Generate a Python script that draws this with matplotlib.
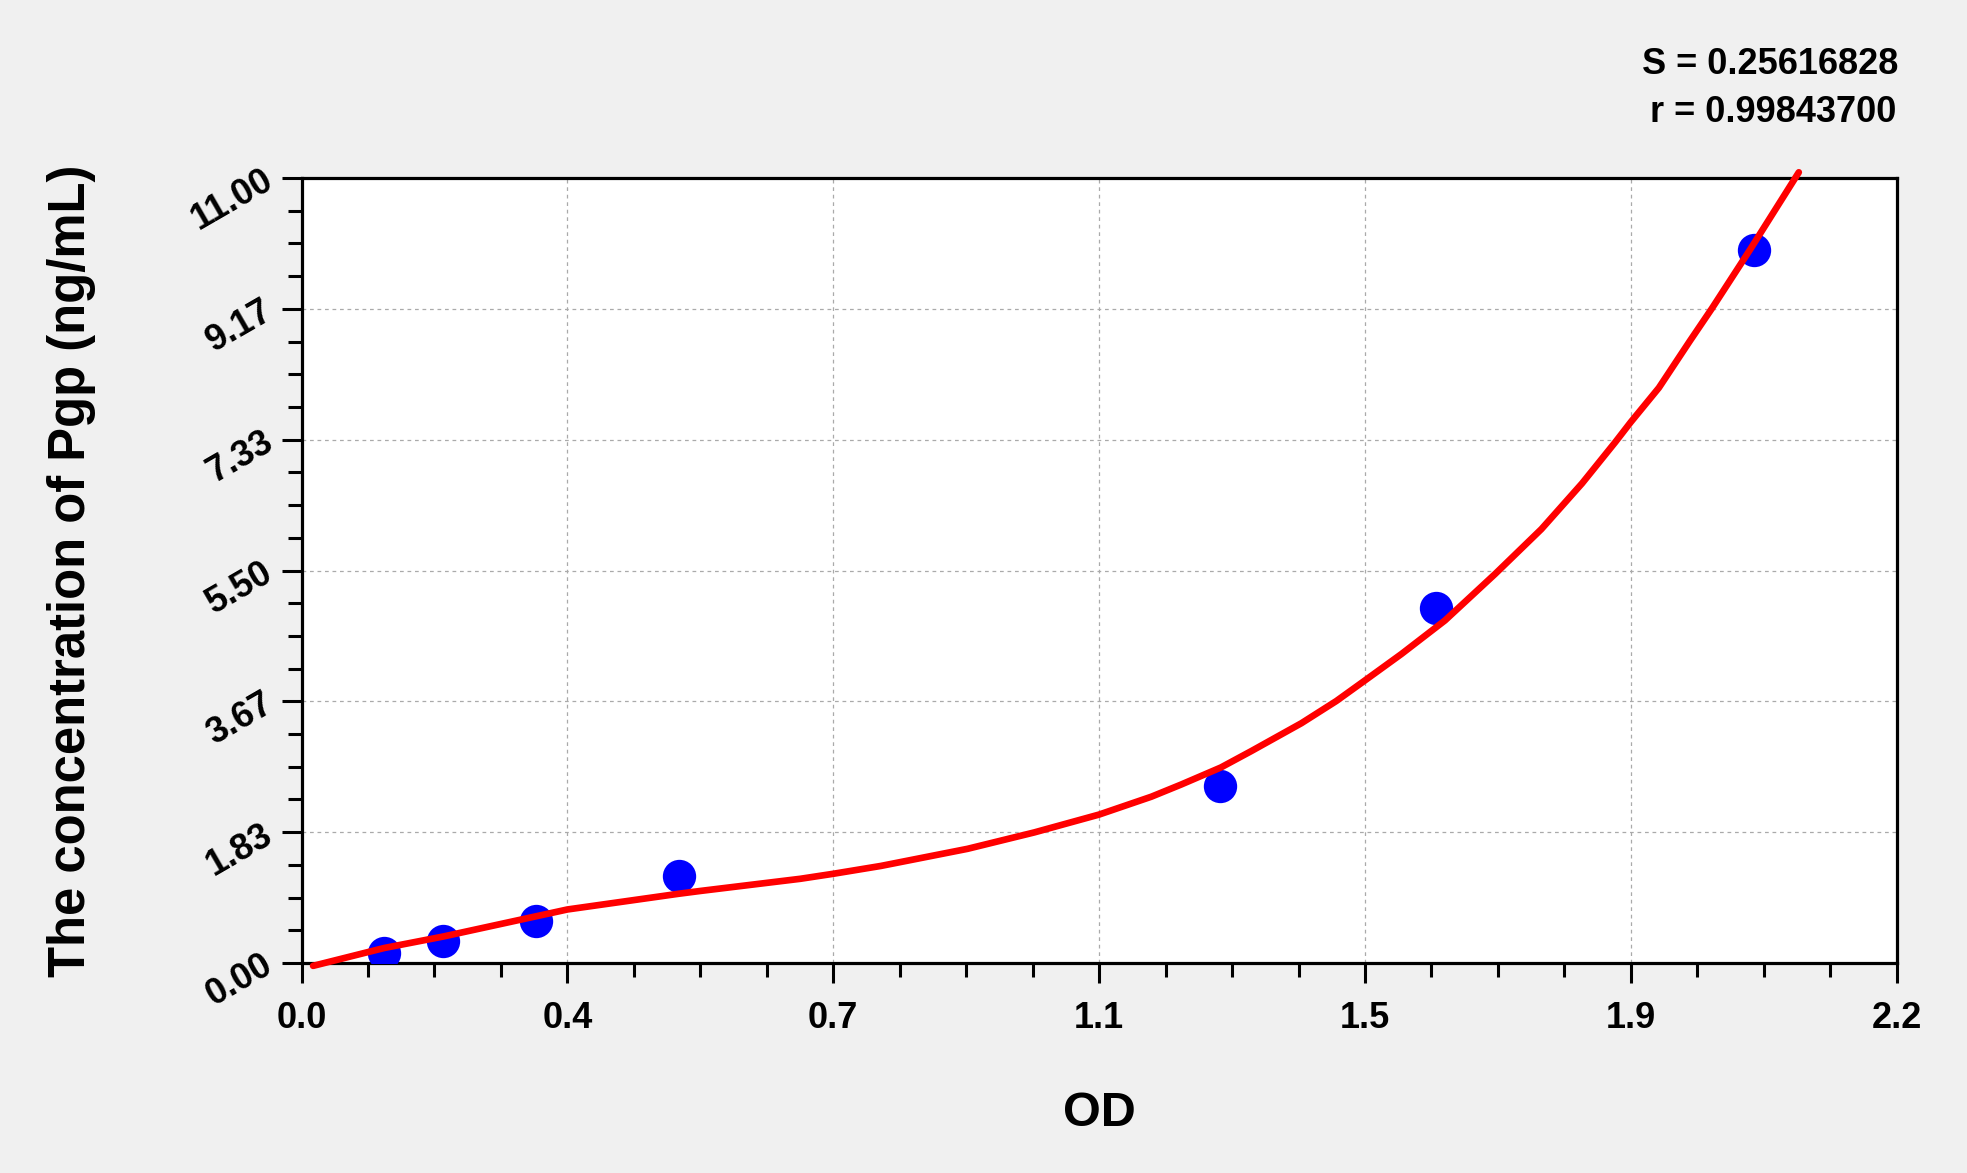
import matplotlib
matplotlib.use("Agg")
import matplotlib.pyplot as plt
from matplotlib.ticker import FixedLocator, MultipleLocator

plt.rcParams['font.family'] = ['Liberation Sans', 'DejaVu Sans']
plt.rcParams['font.weight'] = 'bold'

# ---- data ----
od = [0.114, 0.195, 0.324, 0.520, 1.267, 1.564, 2.003]
conc = [0.14, 0.31, 0.59, 1.22, 2.48, 4.97, 9.99]

# fitted standard curve
curve_x = [0.016, 0.114, 0.195, 0.3667, 0.520, 0.5504, 0.688, 0.7333, 0.799,
           0.9186, 1.0107, 1.1, 1.172, 1.213, 1.268, 1.310, 1.379, 1.427,
           1.4667, 1.517, 1.577, 1.646, 1.710, 1.766, 1.812, 1.8333, 1.872,
           1.915, 1.945, 1.998, 2.065]
curve_y = [-0.04, 0.21, 0.37, 0.75, 0.97, 1.01, 1.18, 1.25, 1.36,
           1.60, 1.83, 2.08, 2.33, 2.50, 2.74, 2.97, 3.36, 3.67,
           3.96, 4.33, 4.80, 5.45, 6.08, 6.72, 7.30, 7.58, 8.06,
           8.72, 9.17, 10.0, 11.08]

x_ticks = [0.0, 2.2 / 6, 2 * 2.2 / 6, 3 * 2.2 / 6, 4 * 2.2 / 6, 5 * 2.2 / 6, 2.2]
x_labels = ['0.0', '0.4', '0.7', '1.1', '1.5', '1.9', '2.2']
y_ticks = [0.0, 11 / 6, 2 * 11 / 6, 3 * 11 / 6, 4 * 11 / 6, 5 * 11 / 6, 11.0]
y_labels = ['0.00', '1.83', '3.67', '5.50', '7.33', '9.17', '11.00']

stats = ['S = 0.25616828', 'r = 0.99843700']

W, H = 1967, 1173
fig = plt.figure(figsize=(W / 100, H / 100), dpi=100, facecolor='#F0F0F0')
ax = fig.add_axes([301.5 / W, (H - 963) / H, (1896.7 - 301.5) / W, (963 - 178) / H])
ax.set_facecolor('white')

ax.set_xlim(0, 2.2)
ax.set_ylim(0, 11)

ax.xaxis.set_major_locator(FixedLocator(x_ticks))
ax.yaxis.set_major_locator(FixedLocator(y_ticks))
ax.set_xticklabels(x_labels)
ax.set_yticklabels(y_labels)
ax.xaxis.set_minor_locator(MultipleLocator(2.2 / 24))
ax.yaxis.set_minor_locator(MultipleLocator(11 / 24))

ax.grid(True, which='major', color='#AAAAAA', linestyle=(0, (3, 3)), linewidth=0.9)
ax.set_axisbelow(True)

for s in ax.spines.values():
    s.set_linewidth(2.3)
    s.set_color('black')

ax.tick_params(which='major', direction='out', length=14.5, width=2.2, labelsize=26,
               colors='black')
ax.tick_params(which='minor', direction='out', length=10, width=2.2)
ax.tick_params(axis='x', which='major', pad=13)
ax.tick_params(axis='y', which='major', pad=8)

for lab in ax.get_xticklabels():
    lab.set_fontweight('bold')
for lab in ax.get_yticklabels():
    lab.set_fontweight('bold')
    lab.set_rotation(30)
    lab.set_rotation_mode('anchor')
    lab.set_ha('right')
    lab.set_va('center')

ax.plot(od, conc, linestyle='none', marker='o', markersize=24, color='#0000FF',
        markeredgewidth=0, zorder=3)
ax.plot(curve_x, curve_y, color='#FF0000', linewidth=4.8, zorder=4, clip_on=False,
        solid_joinstyle='round', solid_capstyle='round')

ax.set_xlabel('OD', fontsize=35, fontweight='bold')
ax.xaxis.label.set_va('center')
ax.xaxis.set_label_coords(0.5, (963 - 1113) / 785)
ax.set_ylabel('The concentration of Pgp (ng/mL)', fontsize=36.5, fontweight='bold')
ax.yaxis.label.set_va('center')
ax.yaxis.set_label_coords((71.5 - 301.5) / 1595.2, 0.5)

fig.text(1898 / W, 1 - 64 / H, stats[0], ha='right', va='center', fontsize=26,
         fontweight='bold')
fig.text(1896 / W, 1 - 113 / H, stats[1], ha='right', va='center', fontsize=26,
         fontweight='bold')

fig.savefig('out.png', dpi=100, facecolor=fig.get_facecolor())
